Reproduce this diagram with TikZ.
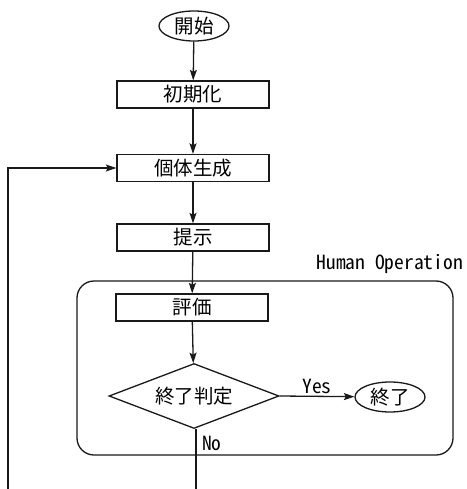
\documentclass[tikz,border=0pt]{standalone}
\usepackage{fontspec}
\setmainfont{Noto Sans CJK JP}[RawFeature=+hwid]
\usetikzlibrary{shapes.geometric,arrows.meta}
\begin{document}
\begin{tikzpicture}[x=1pt,y=-1pt,
  every node/.style={font=\fontsize{19.5pt}{19.5pt}\selectfont, inner sep=0pt},
  line/.style={line width=1.3pt, draw=black!90},
  arr/.style={line, -{Stealth[length=10.5pt,width=7pt,inset=2pt]}},
  procbox/.style={line, rectangle, minimum width=152pt, minimum height=27pt},
  term/.style={line, ellipse, minimum width=70pt, minimum height=30pt},
  decision/.style={line, diamond, minimum width=170pt, minimum height=65pt, aspect=2.6},
  lbl/.style={font=\fontsize{19.5pt}{19.5pt}\selectfont}
]
\useasboundingbox (0,0) rectangle (466,489);
\fill[white] (0,0) rectangle (466,489);
\node[term] (start) at (194,26) {開始};
\node[procbox] (init) at (193,94.5) {初期化};
\node[procbox] (gen) at (193,168) {個体生成};
\node[procbox] (show) at (193,237.5) {提示};
\node[procbox] (eval) at (192,307.5) {評価};
\node[decision] (judge) at (194,396) {終了判定};
\node[term] (end) at (390,397) {終了};
\draw[line, rounded corners=17pt] (77,281) rectangle (453,455);
\node[lbl, anchor=south east] (human) at (463,274) {Human Operation};
\coordinate (nobottom) at (196,489);
\coordinate (loopbottom) at (8,489);
\coordinate (loopcorner) at (8,168);
\draw[arr] (start) -- (init);
\draw[arr] (init) -- (gen);
\draw[arr] (gen) -- (show);
\draw[arr] (show) -- (eval);
\draw[arr] (eval) -- (judge);
\draw[arr] (judge.east) -- node[lbl, above=2pt] (yes) {Yes} (end);
\draw[line] (judge.south) ++(2,0) coordinate (js) -- (nobottom);
\node[lbl, anchor=north west] (no) at (202,436) {No};
\draw[arr] (loopbottom) -- (loopcorner) -- (gen.west);
\end{tikzpicture}
\end{document}
